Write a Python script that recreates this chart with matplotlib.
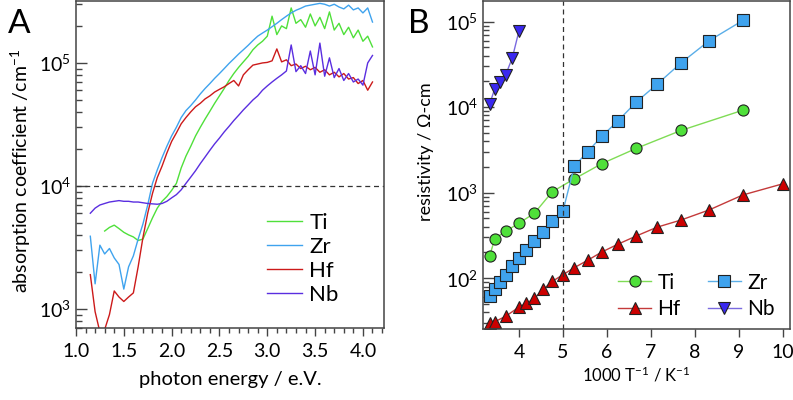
import numpy as np
import matplotlib
matplotlib.use("Agg")
import matplotlib.pyplot as plt
from matplotlib.ticker import LogLocator, MultipleLocator, NullFormatter

plt.rcParams['font.family'] = ['Lato', 'DejaVu Sans']
plt.rcParams['mathtext.fontset'] = 'custom'
plt.rcParams['mathtext.rm'] = 'Lato'
plt.rcParams['mathtext.it'] = 'Lato:italic'
plt.rcParams['font.size'] = 14

# ---- panel A: absorption spectra ----
energy = [1.15, 1.20, 1.25, 1.30, 1.35, 1.40, 1.45, 1.50, 1.55, 1.60,
          1.65, 1.70, 1.75, 1.80, 1.85, 1.90, 1.95, 2.00, 2.05, 2.10,
          2.15, 2.20, 2.25, 2.30, 2.35, 2.40, 2.45, 2.50, 2.55, 2.60,
          2.65, 2.70, 2.75, 2.80, 2.85, 2.90, 2.95, 3.00, 3.05, 3.10,
          3.15, 3.20, 3.25, 3.30, 3.35, 3.40, 3.45, 3.50, 3.55, 3.60,
          3.65, 3.70, 3.75, 3.80, 3.85, 3.90, 3.95, 4.00, 4.05, 4.10]

abs_ti = [np.nan, np.nan, np.nan, 4300, 4600, 4800, 4500, 4200, 4000, 3850,
          3600, 3700, 4500, 5500, 6600, 7500, 8200, 9200, 10500, 14000,
          17500, 21000, 25500, 30000, 35000, 40500, 47000, 54000, 62000, 72000,
          82000, 92000, 102000, 113000, 128000, 140000, 150000, 165000, 240000, 170000,
          200000, 190000, 280000, 210000, 225000, 195000, 250000, 200000, 235000, 190000,
          260000, 185000, 210000, 170000, 195000, 160000, 185000, 150000, 165000, 135000]

abs_zr = [3900, 1600, 3300, 2800, 3100, 2600, 2300, 1450, 2200, 2700,
          3700, 4900, 7000, 10500, 13500, 17000, 21000, 25500, 30000, 36000,
          41000, 45000, 50000, 56000, 62000, 68000, 75000, 82000, 90000, 99000,
          108000, 118000, 128000, 139000, 152000, 165000, 175000, 185000, 197000, 210000,
          225000, 240000, 255000, 268000, 278000, 290000, 295000, 300000, 305000, 300000,
          290000, 300000, 285000, 275000, 295000, 270000, 280000, 255000, 280000, 215000]

abs_hf = [1900, 950, 650, 680, 900, 1400, 1250, 1150, 1250, 1350,
          2200, 3800, 6000, 8700, 11700, 14500, 18500, 23000, 27000, 32000,
          36000, 40000, 44000, 47000, 51000, 54000, 58000, 61000, 64000, 68000,
          72000, 65000, 80000, 88000, 96000, 98000, 100000, 101000, 104000, 130000,
          102000, 106000, 95000, 98000, 90000, 94000, 88000, 92000, 84000, 88000,
          80000, 84000, 77000, 82000, 74000, 76000, 68000, 72000, 60000, 70000]

abs_nb = [6000, 6600, 7000, 7200, 7400, 7500, 7600, 7500, 7500, 7400,
          7400, 7300, 7200, 7150, 7100, 7200, 7500, 8000, 8500, 9300,
          10500, 11800, 13300, 15200, 17200, 19500, 22000, 24500, 27500, 30500,
          34000, 37500, 41500, 45500, 50000, 54000, 60000, 65000, 70000, 75000,
          80000, 86000, 140000, 85000, 95000, 82000, 125000, 80000, 145000, 78000,
          110000, 76000, 90000, 72000, 82000, 70000, 74000, 66000, 100000, 115000]

# ---- panel B: resistivity vs 1000/T ----
inv_t_ti = [3.33, 3.45, 3.70, 4.00, 4.35, 4.76, 5.26, 5.88, 6.67, 7.69, 9.09]
rho_ti = [180, 290, 355, 440, 575, 1030, 1450, 2180, 3300, 5350, 9200]

inv_t_zr = [3.33, 3.45, 3.57, 3.70, 3.85, 4.00, 4.17, 4.35, 4.55, 4.76, 5.00,
            5.26, 5.56, 5.88, 6.25, 6.67, 7.14, 7.69, 8.33, 9.09]
rho_zr = [62, 75, 90, 110, 138, 172, 215, 272, 350, 465, 610,
          2050, 3000, 4550, 6900, 11500, 18500, 33000, 60000, 103000]

inv_t_hf = [3.33, 3.45, 3.70, 4.00, 4.17, 4.35, 4.55, 4.76, 5.00, 5.26,
            5.56, 5.88, 6.25, 6.67, 7.14, 7.69, 8.33, 9.09, 10.00]
rho_hf = [30, 31, 36, 46, 51, 58, 74, 92, 110, 133,
          162, 202, 250, 312, 395, 480, 630, 940, 1270]

inv_t_nb = [3.33, 3.45, 3.57, 3.70, 3.85, 4.00]
rho_nb = [10800, 16500, 19500, 24000, 38000, 78000]

c_ti, c_zr, c_hf, c_nb = '#4fe03a', '#3fa3ee', '#cc1a1a', '#5a2ee0'

fig = plt.figure(figsize=(7.93, 4.0), dpi=100)
axA = fig.add_axes([0.0958, 0.18, 0.3884, 0.818])
axB = fig.add_axes([0.609, 0.1775, 0.387, 0.8205])

# panel A
for y, col, lab in [(abs_ti, c_ti, 'Ti'), (abs_zr, c_zr, 'Zr'),
                    (abs_hf, c_hf, 'Hf'), (abs_nb, c_nb, 'Nb')]:
    axA.plot(energy, y, color=col, lw=1.0, label=lab)
axA.axhline(1e4, color='#333333', lw=0.9, ls=(0, (4, 3)))
axA.set_yscale('log')
axA.set_xlim(1.0, 4.22)
axA.set_ylim(700, 3.2e5)
axA.xaxis.set_major_locator(MultipleLocator(0.5))
axA.xaxis.set_minor_locator(MultipleLocator(0.1))
axA.xaxis.set_major_formatter(plt.FuncFormatter(lambda v, p: '%.1f' % v))
axA.yaxis.set_minor_locator(LogLocator(base=10, subs=np.arange(2, 10)))
axA.yaxis.set_minor_formatter(NullFormatter())
axA.set_xlabel('photon energy / e.V.', fontsize=14.5, labelpad=8)
axA.set_ylabel('absorption coefficient /cm$^{-1}$', fontsize=14)
axA.yaxis.set_label_coords(-0.14, 0.48)
axA.legend(loc='upper left', bbox_to_anchor=(0.62, 0.352), frameon=False,
           borderaxespad=0, borderpad=0,
           handlelength=1.6, handletextpad=0.3, labelspacing=0.18, fontsize=16)

# panel B
axB.plot(inv_t_ti, rho_ti, color='#7fdc55', lw=1.0, marker='o', ms=8,
         mfc=c_ti, mec='#222222', mew=0.8, label='Ti')
axB.plot(inv_t_hf, rho_hf, color='#c43a3a', lw=1.0, marker='^', ms=9,
         mfc='#cc0000', mec='#222222', mew=0.8, label='Hf')
axB.plot(inv_t_zr, rho_zr, color='#5aaee8', lw=1.0, marker='s', ms=8,
         mfc=c_zr, mec='#222222', mew=0.8, label='Zr')
axB.plot(inv_t_nb, rho_nb, color='#7a6ae0', lw=1.0, marker='v', ms=9,
         mfc='#3a28f0', mec='#222222', mew=0.8, label='Nb')
axB.axvline(5, color='#333333', lw=0.9, ls=(0, (4, 3)))
axB.set_yscale('log')
axB.set_xlim(3.18, 10.16)
axB.set_ylim(25.5, 1.75e5)
axB.xaxis.set_major_locator(MultipleLocator(1))
axB.yaxis.set_minor_locator(LogLocator(base=10, subs=np.arange(2, 10)))
axB.yaxis.set_minor_formatter(NullFormatter())
axB.set_xlabel('1000 T$^{-1}$ / K$^{-1}$', fontsize=12, labelpad=3)
axB.set_ylabel('resistivity / \u03a9-cm', fontsize=13)
axB.yaxis.set_label_coords(-0.16, 0.54)
axB.legend(loc='upper left', bbox_to_anchor=(0.44, 0.172), frameon=False, ncol=2,
           borderaxespad=0, borderpad=0,
           handlelength=1.6, handletextpad=0.3, labelspacing=0.32,
           columnspacing=1.3, fontsize=15)

for ax in (axA, axB):
    for s in ax.spines.values():
        s.set_color('#444444')
        s.set_linewidth(1.1)
    ax.tick_params(axis='x', which='major', direction='out', length=6, width=1,
                   color='#444444', pad=5)
    ax.tick_params(axis='x', which='minor', direction='out', length=3.5, width=1,
                   color='#444444')
    ax.tick_params(axis='y', which='major', direction='in', length=8, width=1,
                   color='#444444')
    ax.tick_params(axis='y', which='minor', direction='in', length=4, width=1,
                   color='#444444')
    ax.tick_params(labelsize=14)

fig.text(0.010, 0.9175, 'A', fontsize=24, va='baseline', ha='left')
fig.text(0.5145, 0.9175, 'B', fontsize=24, va='baseline', ha='left')

fig.savefig('out.png', dpi=100)
